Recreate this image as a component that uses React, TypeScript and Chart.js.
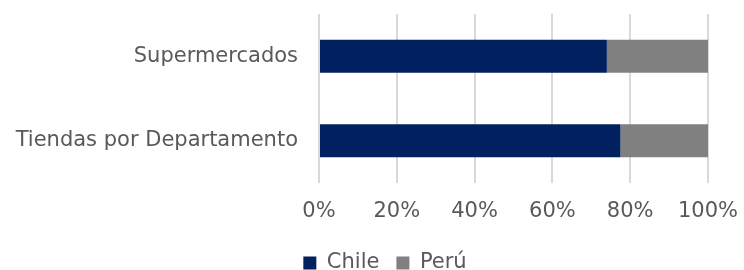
import React, { useEffect, useRef } from "react";
import { Chart, registerables } from "chart.js";

Chart.register(...registerables);

const categories = ["Supermercados", "Tiendas por Departamento"];
const chileValues = [74, 77.5];
const peruValues = [26, 22.5];
const xTicks = [0, 20, 40, 60, 80, 100];

const FONT = "'DejaVu Sans', Verdana, sans-serif";
const TEXT = "#595959";
const LEGEND_PAD = 17;
const LEGEND_CENTER_Y = 263;
const LEGEND_SHIFT_X = 31;
const FONT_SIZE = 21;

const legendShift = {
  id: "legendShift",
  afterLayout(chart: any) {
    const lg = chart.legend;
    if (lg) {
      lg.top = LEGEND_CENTER_Y - FONT_SIZE / 2 - LEGEND_PAD;
      lg.bottom = chart.height;
      lg.height = lg.bottom - lg.top;
      lg.left += LEGEND_SHIFT_X;
      lg.right += LEGEND_SHIFT_X;
    }
  },
};

export default function App() {
  const ref = useRef<HTMLCanvasElement | null>(null);
  useEffect(() => {
    if (!ref.current) return;
    const chart = new Chart(ref.current, {
      type: "bar",
      data: {
        labels: categories,
        datasets: [
          {
            label: "Chile",
            data: chileValues,
            backgroundColor: "#002060",
            barPercentage: 0.39,
            categoryPercentage: 1,
          },
          {
            label: "Perú",
            data: peruValues,
            backgroundColor: "#808080",
            barPercentage: 0.39,
            categoryPercentage: 1,
          },
        ],
      },
      options: {
        indexAxis: "y",
        responsive: false,
        animation: false,
        layout: { padding: { top: 14, right: 36, left: 0, bottom: 0 } },
        plugins: {
          legend: {
            position: "bottom",
            maxHeight: 20,
            labels: {
              font: { family: FONT, size: FONT_SIZE },
              color: TEXT,
              boxWidth: 13,
              boxHeight: 13,
              padding: LEGEND_PAD,
            },
          },
          tooltip: { enabled: false },
        },
        scales: {
          x: {
            stacked: true,
            min: 0,
            max: 100,
            afterBuildTicks: (axis: any) => {
              axis.ticks = xTicks.map((v) => ({ value: v }));
            },
            afterFit: (axis: any) => {
              axis.height = 67;
            },
            ticks: {
              font: { family: FONT, size: FONT_SIZE },
              color: TEXT,
              padding: 0,
              maxRotation: 0,
              callback: (v: any) => v + "%",
            },
            grid: {
              color: "#d9d9d9",
              lineWidth: 2,
              drawTicks: true,
              tickLength: 16,
              tickColor: "rgba(0,0,0,0)",
            },
            border: { display: false },
          },
          y: {
            stacked: true,
            afterFit: (axis: any) => {
              axis.width = 319;
            },
            ticks: {
              font: { family: FONT, size: FONT_SIZE },
              color: TEXT,
              padding: 0,
            },
            grid: {
              display: false,
              drawTicks: true,
              tickLength: 21,
              tickColor: "rgba(0,0,0,0)",
            },
            border: { display: false },
          },
        },
      },
      plugins: [legendShift],
    });
    return () => chart.destroy();
  }, []);
  return (
    <div style={{ position: "absolute", left: 0, top: 0, width: 744, height: 270 }}>
      <canvas ref={ref} width={744} height={270} style={{ width: 744, height: 270 }} />
    </div>
  );
}
